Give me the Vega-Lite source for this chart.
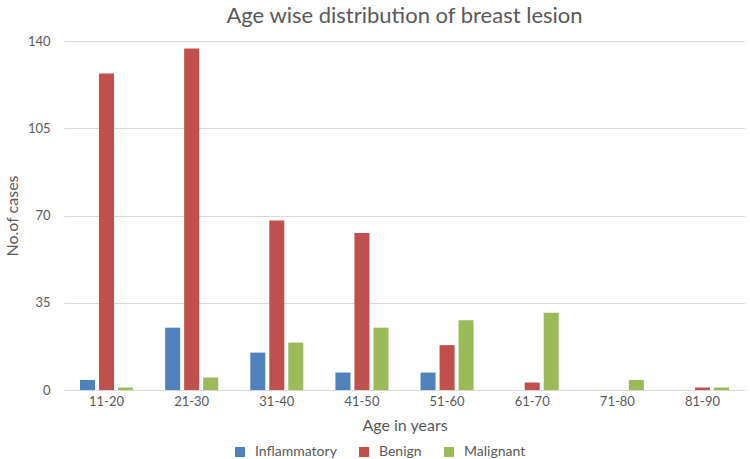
{
  "$schema": "https://vega.github.io/schema/vega-lite/v6.json",
  "width": 681,
  "height": 349,
  "autosize": {"type": "none"},
  "padding": {"left": 64, "top": 41, "right": 5, "bottom": 69},
  "background": "white",
  "title": {
    "text": "Age wise distribution of breast lesion",
    "font": "Lato",
    "fontSize": 22,
    "fontWeight": "normal",
    "color": "#595959",
    "anchor": "middle",
    "offset": 7
  },
  "data": {
    "values": [
      {"age": "11-20", "type": "Inflammatory", "cases": 4},
      {"age": "11-20", "type": "Benign", "cases": 127},
      {"age": "11-20", "type": "Malignant", "cases": 1},
      {"age": "21-30", "type": "Inflammatory", "cases": 25},
      {"age": "21-30", "type": "Benign", "cases": 137},
      {"age": "21-30", "type": "Malignant", "cases": 5},
      {"age": "31-40", "type": "Inflammatory", "cases": 15},
      {"age": "31-40", "type": "Benign", "cases": 68},
      {"age": "31-40", "type": "Malignant", "cases": 19},
      {"age": "41-50", "type": "Inflammatory", "cases": 7},
      {"age": "41-50", "type": "Benign", "cases": 63},
      {"age": "41-50", "type": "Malignant", "cases": 25},
      {"age": "51-60", "type": "Inflammatory", "cases": 7},
      {"age": "51-60", "type": "Benign", "cases": 18},
      {"age": "51-60", "type": "Malignant", "cases": 28},
      {"age": "61-70", "type": "Inflammatory", "cases": 0},
      {"age": "61-70", "type": "Benign", "cases": 3},
      {"age": "61-70", "type": "Malignant", "cases": 31},
      {"age": "71-80", "type": "Inflammatory", "cases": 0},
      {"age": "71-80", "type": "Benign", "cases": 0},
      {"age": "71-80", "type": "Malignant", "cases": 4},
      {"age": "81-90", "type": "Inflammatory", "cases": 0},
      {"age": "81-90", "type": "Benign", "cases": 1},
      {"age": "81-90", "type": "Malignant", "cases": 1}
    ]
  },
  "mark": {"type": "bar"},
  "encoding": {
    "x": {
      "field": "age",
      "type": "nominal",
      "sort": ["11-20", "21-30", "31-40", "41-50", "51-60", "61-70", "71-80", "81-90"],
      "scale": {"paddingInner": 0.377, "paddingOuter": 0.188},
      "axis": {
        "title": "Age in years",
        "titleFont": "Lato",
        "titleFontSize": 16,
        "titleFontWeight": "normal",
        "titleColor": "#595959",
        "titlePadding": 9,
        "labelFont": "Lato",
        "labelFontSize": 13,
        "labelColor": "#595959",
        "labelAngle": 0,
        "labelPadding": 5,
        "ticks": false,
        "domainColor": "#d9d9d9",
        "domainWidth": 1
      }
    },
    "xOffset": {
      "field": "type",
      "type": "nominal",
      "sort": ["Inflammatory", "Benign", "Malignant"],
      "scale": {"paddingInner": 0.21, "paddingOuter": 0}
    },
    "y": {
      "field": "cases",
      "type": "quantitative",
      "scale": {"domain": [0, 140], "nice": false},
      "axis": {
        "title": "No.of cases",
        "titleFont": "Lato",
        "titleFontSize": 16,
        "titleFontWeight": "normal",
        "titleColor": "#595959",
        "titlePadding": 7,
        "values": [0, 35, 70, 105, 140],
        "labelFont": "Lato",
        "labelFontSize": 13,
        "labelColor": "#595959",
        "labelPadding": 14,
        "ticks": false,
        "domain": false,
        "gridColor": "#d9d9d9",
        "gridWidth": 1
      }
    },
    "color": {
      "field": "type",
      "type": "nominal",
      "sort": ["Inflammatory", "Benign", "Malignant"],
      "scale": {
        "domain": ["Inflammatory", "Benign", "Malignant"],
        "range": ["#4f81bd", "#c0504d", "#9bbb59"]
      },
      "legend": {
        "title": null,
        "orient": "none",
        "direction": "horizontal",
        "legendX": 169,
        "legendY": 404,
        "symbolType": "square",
        "symbolSize": 100,
        "symbolStrokeWidth": 0,
        "labelFont": "Lato",
        "labelFontSize": 14,
        "labelColor": "#595959",
        "labelOffset": 8,
        "columnPadding": 20
      }
    }
  },
  "config": {
    "view": {"stroke": null}
  }
}
